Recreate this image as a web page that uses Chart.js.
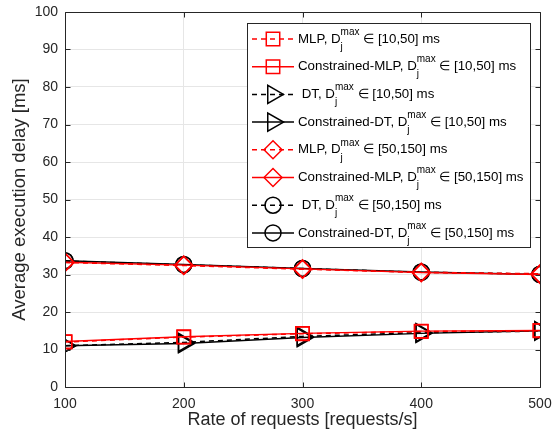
<!DOCTYPE html>
<html>
<head>
<meta charset="utf-8">
<script src="https://cdn.jsdelivr.net/npm/chart.js@4.4.1/dist/chart.umd.min.js"></script>
<style>
  body { margin: 0; background: #fff; }
  #wrap { width: 553px; height: 442px; }
</style>
</head>
<body>
<div id="wrap"><canvas id="myChart" width="553" height="442"></canvas></div>
<script>
// x axis: rate of requests
const rates = [100, 200, 300, 400, 500];
const xTicks = [100, 200, 300, 400, 500];
const yTicks = [0, 10, 20, 30, 40, 50, 60, 70, 80, 90, 100];

// D_j^max in [10,50] ms
const mlpLow = [12.0, 13.3, 14.2, 14.8, 15.0];
const cmlpLow = [12.1, 13.4, 14.3, 14.9, 15.1];
const dtLow = [11.0, 11.9, 13.5, 14.5, 14.9];
const cdtLow = [11.0, 11.6, 13.2, 14.3, 15.0];

// D_j^max in [50,150] ms
const mlpHigh = [33.2, 32.4, 31.4, 30.6, 30.2];
const cmlpHigh = [33.3, 32.5, 31.5, 30.5, 30.0];
const dtHigh = [33.6, 32.6, 31.6, 30.6, 30.1];
const cdtHigh = [33.7, 32.7, 31.6, 30.7, 30.0];

const names = ['MLP', 'Constrained-MLP', ' DT', 'Constrained-DT', 'MLP', 'Constrained-MLP', ' DT', 'Constrained-DT'];
const ranges = ['[10,50]', '[10,50]', '[10,50]', '[10,50]', '[50,150]', '[50,150]', '[50,150]', '[50,150]'];

const RED = '#ff0000';
const BLACK = '#000000';
const dash = [5, 4];
const FONT = '"Liberation Sans", Arial, sans-serif';

function series(data, color, dashed, style, radius, rotation) {
    return {
        data: rates.map((x, i) => ({ x: x, y: data[i] })),
        borderColor: color,
        backgroundColor: 'rgba(0,0,0,0)',
        pointBorderColor: color,
        pointBackgroundColor: 'rgba(0,0,0,0)',
        borderWidth: 1.5,
        pointBorderWidth: 1.5,
        borderDash: dashed ? dash : [],
        pointStyle: style,
        pointRadius: radius,
        pointRotation: rotation || 0,
        fill: false,
        tension: 0
    };
}

const datasets = [
    series(mlpLow, RED, true, 'rect', 9.5),
    series(cmlpLow, RED, false, 'rect', 9.5),
    series(dtLow, BLACK, true, 'triangle', 10.5, 90),
    series(cdtLow, BLACK, false, 'triangle', 10.5, 90),
    series(mlpHigh, RED, true, 'rectRot', 9),
    series(cmlpHigh, RED, false, 'rectRot', 9),
    series(dtHigh, BLACK, true, 'circle', 8),
    series(cdtHigh, BLACK, false, 'circle', 8)
];

// box around the axes + inner tick marks, like matlab "box on"
const axesBox = {
    id: 'axesBox',
    afterDatasetsDraw(chart) {
        const a = chart.chartArea;
        const ctx = chart.ctx;
        const L = Math.round(a.left) + 0.5, T = Math.round(a.top) + 0.5;
        const R = Math.round(a.right) + 0.5, B = Math.round(a.bottom) + 0.5;
        ctx.save();
        ctx.strokeStyle = '#262626';
        ctx.lineWidth = 1;
        ctx.beginPath();
        ctx.rect(L, T, R - L, B - T);
        yTicks.forEach(v => {
            const y = Math.round(chart.scales.y.getPixelForValue(v)) + 0.5;
            ctx.moveTo(L, y); ctx.lineTo(L + 5, y);
            ctx.moveTo(R, y); ctx.lineTo(R - 5, y);
        });
        xTicks.forEach(v => {
            const x = Math.round(chart.scales.x.getPixelForValue(v)) + 0.5;
            ctx.moveTo(x, B); ctx.lineTo(x, B - 5);
            ctx.moveTo(x, T); ctx.lineTo(x, T + 5);
        });
        ctx.stroke();
        ctx.restore();
    }
};

// legend with superscript / subscript
const boxLegend = {
    id: 'boxLegend',
    afterDraw(chart) {
        const ctx = chart.ctx;
        const x0 = 247, y0 = 23, w = 283, h = 224;
        ctx.save();
        ctx.fillStyle = '#fff';
        ctx.fillRect(x0, y0, w, h);
        ctx.strokeStyle = '#262626';
        ctx.lineWidth = 1;
        ctx.strokeRect(x0 + 0.5, y0 + 0.5, w, h);
        chart.data.datasets.forEach((ds, i) => {
            const cy = y0 + 16 + i * 27.7;
            ctx.strokeStyle = ds.borderColor;
            ctx.lineWidth = 1.5;
            ctx.setLineDash(ds.borderDash);
            ctx.beginPath();
            ctx.moveTo(252, cy);
            ctx.lineTo(294, cy);
            ctx.stroke();
            ctx.setLineDash([]);
            ctx.fillStyle = 'rgba(0,0,0,0)';
            Chart.helpers.drawPoint(ctx, {
                pointStyle: ds.pointStyle,
                rotation: ds.pointRotation,
                radius: ds.pointRadius,
                borderWidth: 1.5
            }, 273, cy);

            ctx.fillStyle = '#000';
            ctx.textBaseline = 'middle';
            ctx.textAlign = 'left';
            let tx = 298;
            ctx.font = '13.3px ' + FONT;
            const head = names[i] + ', D';
            ctx.fillText(head, tx, cy);
            tx += ctx.measureText(head).width;
            ctx.font = '10px ' + FONT;
            ctx.fillText('max', tx, cy - 7);
            ctx.fillText('j', tx, cy + 8);
            tx += ctx.measureText('max').width;
            ctx.font = '13.3px ' + FONT;
            ctx.fillText(' \u2208 ' + ranges[i] + ' ms', tx, cy);
        });
        ctx.restore();
    }
};

const config = {
    type: 'line',
    data: { datasets: datasets },
    plugins: [axesBox, boxLegend],
    options: {
        responsive: false,
        animation: false,
        layout: { padding: { top: 12, right: 13, left: 0, bottom: 0 } },
        scales: {
            x: {
                type: 'linear',
                min: 100,
                max: 500,
                afterBuildTicks: axis => { axis.ticks = xTicks.map(v => ({ value: v })); },
                afterFit: axis => {
                    axis.height = 55;
                    axis.paddingLeft = 0;
                    axis.paddingRight = 0;
                },
                grid: { color: '#e6e6e6', lineWidth: 1, drawTicks: false },
                border: { display: false },
                ticks: {
                    color: '#262626',
                    padding: 9,
                    font: { family: FONT, size: 14 }
                },
                title: {
                    display: true,
                    text: 'Rate of requests [requests/s]',
                    color: '#262626',
                    padding: { top: 0, bottom: 11 },
                    font: { family: FONT, size: 18 }
                }
            },
            y: {
                type: 'linear',
                min: 0,
                max: 100,
                afterBuildTicks: axis => { axis.ticks = yTicks.map(v => ({ value: v })); },
                afterFit: axis => {
                    axis.width = 65;
                    axis.paddingTop = 0;
                    axis.paddingBottom = 0;
                },
                grid: { color: '#e6e6e6', lineWidth: 1, drawTicks: false },
                border: { display: false },
                ticks: {
                    color: '#262626',
                    padding: 7,
                    font: { family: FONT, size: 14 }
                },
                title: {
                    display: true,
                    text: 'Average execution delay [ms]',
                    color: '#262626',
                    padding: { top: 9, bottom: 0 },
                    font: { family: FONT, size: 18.5 }
                }
            }
        },
        plugins: {
            legend: { display: false },
            tooltip: { enabled: false }
        }
    }
};

const myChart = new Chart(document.getElementById('myChart'), config);
</script>
</body>
</html>
